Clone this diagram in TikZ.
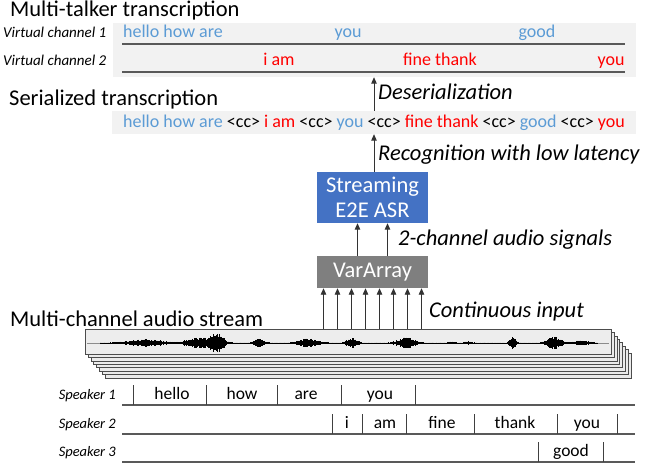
\documentclass[tikz,border=0pt]{standalone}
\usepackage{fontspec}
\setmainfont{Carlito}
\usetikzlibrary{arrows.meta,calc}
\definecolor{blueT}{RGB}{91,155,213}
\definecolor{redT}{RGB}{255,0,0}
\definecolor{boxgray}{RGB}{242,242,242}
\definecolor{asrblue}{RGB}{68,114,196}
\definecolor{vargray}{RGB}{127,127,127}
\definecolor{linegray}{RGB}{89,89,89}
\pgfmathdeclarefunction{bmp}{3}{%
  \begingroup
  \pgfmathparse{min(abs(#1-#2)/#3,4)}%
  \pgfmathparse{exp(-\pgfmathresult*\pgfmathresult)}%
  \pgfmathsmuggle\pgfmathresult
  \endgroup}
\begin{document}
\begin{tikzpicture}[x=1pt,y=-1pt,
  big/.style={inner sep=0pt,font=\fontsize{22.5}{26}\selectfont},
  lab/.style={inner sep=0pt,font=\fontsize{22.5}{26}\selectfont\itshape},
  chlab/.style={inner sep=0pt,font=\fontsize{15}{18}\selectfont\itshape},
  spk/.style={inner sep=0pt,font=\fontsize{14.5}{17}\selectfont\itshape},
  word/.style={inner sep=0pt,font=\fontsize{18}{21}\selectfont},
  sword/.style={inner sep=0pt,font=\fontsize{17.5}{20}\selectfont,anchor=base},
  graybox/.style={fill=boxgray,draw=none,inner sep=0pt},
  arr/.style={draw=black!80,line width=0.9pt,-{Triangle[length=6.5pt,width=5.5pt]}},
  tl/.style={draw=linegray,line width=1.1pt},
  tick/.style={draw=black!75,line width=0.8pt},
  procbox/.style={inner sep=0pt,text=white,align=center,font=\fontsize{22.5}{25}\selectfont},
  stackbox/.style={fill=black!8,draw=black!70,line width=0.6pt},
  wave/.style={draw=black,line width=0.9pt}
]
\useasboundingbox (0,0) rectangle (648,465);

% ---------- Multi-talker transcription ----------
\node[big,anchor=base west] (title) at (10,17) {Multi-talker transcription};
\node[graybox,minimum width=523pt,minimum height=54pt] (chbox) at (374.5,50) {};
\node[chlab,anchor=base west] (vc1) at (3,37.5) {Virtual channel 1};
\node[chlab,anchor=base west] (vc2) at (3,65.5) {Virtual channel 2};
\coordinate (l1a) at (122,44); \coordinate (l1b) at (625,44);
\coordinate (l2a) at (122,72); \coordinate (l2b) at (625,72);
\draw[tl] (l1a) -- (l1b);
\draw[tl] (l2a) -- (l2b);
\node[word,text=blueT,anchor=base west] (c1w1) at (123,38) {hello how are};
\node[word,text=blueT,anchor=base] (c1w2) at (348,38) {you};
\node[word,text=blueT,anchor=base] (c1w3) at (537,38) {good};
\node[word,text=redT,anchor=base] (c2w1) at (279,66) {i am};
\node[word,text=redT,anchor=base] (c2w2) at (440,66) {fine thank};
\node[word,text=redT,anchor=base] (c2w3) at (611,66) {you};

% ---------- Serialized transcription ----------
\node[big,anchor=base west] (sertitle) at (9,106) {Serialized transcription};
\node[graybox,minimum width=524pt,minimum height=23pt] (serbox) at (374,122.5) {};
\node[word,anchor=base west] (ser) at (123,127.5) {\textcolor{blueT}{hello how are} <cc> \textcolor{redT}{i am} <cc> \textcolor{blueT}{you} <cc> \textcolor{redT}{fine thank} <cc> \textcolor{blueT}{good} <cc> \textcolor{redT}{you}};
\draw[arr] (serbox.north) -- (serbox.north |- chbox.south);
\node[lab,anchor=base west] (deser) at (378,100) {Deserialization};

% ---------- Streaming E2E ASR ----------
\node[procbox,fill=asrblue,minimum width=111pt,minimum height=51pt] (asr) at (372.5,197.5) {Streaming\\E2E ASR};
\draw[arr] ([xshift=1.5pt]asr.north) -- ([xshift=1.5pt]asr.north |- serbox.south);
\node[lab,anchor=base west] (recog) at (378,161) {Recognition with low latency};

% ---------- VarArray ----------
\node[procbox,fill=vargray,minimum width=111pt,minimum height=32pt] (var) at (372.5,272) {VarArray};
\draw[arr] ([xshift=-15pt]var.north) -- ([xshift=-15pt]asr.south);
\draw[arr] ([xshift=15pt]var.north) -- ([xshift=15pt]asr.south);
\node[lab,anchor=base west] (twoch) at (398,246) {2-channel audio signals};

% ---------- Multi-channel audio stream ----------
\node[big,anchor=base west] (mcas) at (10,326) {Multi-channel audio stream};
\foreach \i in {7,6,...,1} {
  \draw[stackbox] (85+2.9*\i,329+3.4*\i) rectangle (611+2.9*\i,354+3.4*\i);
}
\node[fill=black!7,draw=black!70,line width=0.7pt,minimum width=526pt,minimum height=25pt,inner sep=0pt] (audio) at (348,341.5) {};
\draw[black!45,line width=0.5pt] (87,343) -- (609,343);
\pgfmathsetseed{11}
\foreach \x in {100,100.8,...,598} {
  \pgfmathsetmacro\env{0.35 + 3.6*bmp(\x,145,22) + 5*bmp(\x,198,14) + 9.5*bmp(\x,217,8) + 4*bmp(\x,259,6) + 4.2*bmp(\x,308,12) + 5.5*bmp(\x,352,6) + 5.5*bmp(\x,406,10) + 1.3*bmp(\x,452,4) + 1.5*bmp(\x,468,5) + 6.5*bmp(\x,513,3.5) + 6*bmp(\x,554,9) + 2.4*bmp(\x,582,9)}
  \pgfmathsetmacro\amp{\env*(0.55+0.45*rnd)}
  \draw[wave] (\x,343-\amp) -- (\x,343+\amp);
}
\foreach \dx in {-49,-35,-21,-7,7,21,35,49} {
  \draw[arr] ([xshift=\dx pt]var.south |- audio.north) -- ([xshift=\dx pt]var.south);
}
\node[lab,anchor=base west] (cont) at (429,317) {Continuous input};

% ---------- Speaker timelines ----------
\node[spk,anchor=base east] (sp1) at (116,399) {Speaker 1};
\node[spk,anchor=base east] (sp2) at (116,428) {Speaker 2};
\node[spk,anchor=base east] (sp3) at (116,456) {Speaker 3};
\coordinate (t1a) at (122,405); \coordinate (t1b) at (635,405);
\coordinate (t2a) at (122,434); \coordinate (t2b) at (635,434);
\coordinate (t3a) at (122,462); \coordinate (t3b) at (635,462);
\draw[tl] (t1a) -- (t1b);
\draw[tl] (t2a) -- (t2b);
\draw[tl] (t3a) -- (t3b);
\foreach \t in {133,206,277,341,415} { \draw[tick] (\t,385) -- (\t,405); }
\foreach \t in {332,362,406,474,557,617} { \draw[tick] (\t,414) -- (\t,434); }
\foreach \t in {538,603} { \draw[tick] (\t,442) -- (\t,462); }
\node[sword] (w11) at (172,399) {hello};
\node[sword] (w12) at (242,399) {how};
\node[sword] (w13) at (306,399) {are};
\node[sword] (w14) at (380,399) {you};
\node[sword] (w21) at (347,428) {i};
\node[sword] (w22) at (385,428) {am};
\node[sword] (w23) at (442,428) {fine};
\node[sword] (w24) at (515,428) {thank};
\node[sword] (w25) at (587,428) {you};
\node[sword] (w31) at (571,456) {good};
\end{tikzpicture}
\end{document}
